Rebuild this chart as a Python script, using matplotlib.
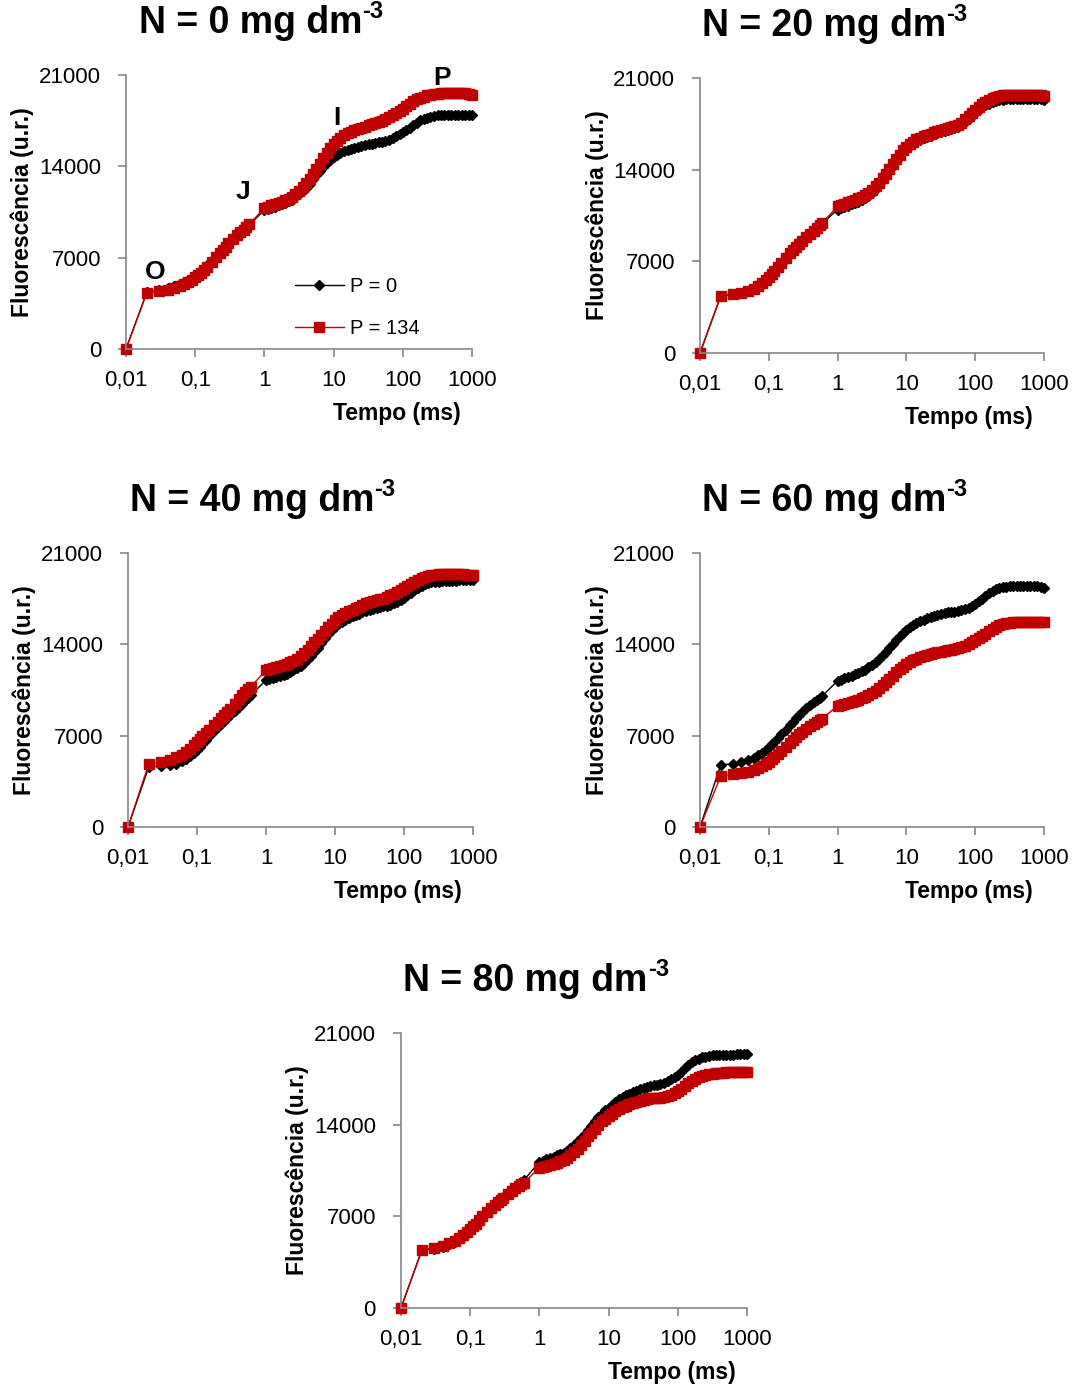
import matplotlib.pyplot as plt
from matplotlib.ticker import FixedLocator, FixedFormatter

# tempo (ms)
tempo = [0.01, 0.02, 0.03, 0.04, 0.05, 0.06, 0.07, 0.08, 0.09, 0.1,
         0.11, 0.12, 0.135, 0.15, 0.175, 0.2, 0.225, 0.25, 0.275, 0.3,
         0.35, 0.4, 0.45, 0.5, 0.55, 0.6,
         1, 1.12, 1.25, 1.4, 1.6, 1.8, 2, 2.25, 2.5, 2.8,
         3.2, 3.6, 4, 4.5, 5, 5.6, 6.3, 7.1, 8, 9,
         10, 11.2, 12.5, 14, 16, 18, 20, 22.5, 25, 28,
         32, 36, 40, 45, 50, 56, 63, 71, 80, 90,
         100, 112, 125, 140, 160, 180, 200, 225, 250, 280,
         320, 360, 400, 450, 500, 560, 630, 710, 800, 900,
         1000]

# fluorescência (u.r.) - P = 0 / P = 134 for each N level
n0_p0 = [0, 4350, 4500, 4650, 4850, 5000, 5150, 5300, 5450, 5600,
         5780, 5950, 6180, 6400, 6750, 7050, 7350, 7600, 7850, 8100,
         8400, 8700, 8950, 9150, 9330, 9500,
         10650, 10720, 10800, 10900, 11000, 11100, 11200, 11320, 11450, 11630,
         11850, 12080, 12350, 12670, 13000, 13330, 13650, 13970, 14250, 14500,
         14700, 14890, 15050, 15160, 15250, 15330, 15400, 15480, 15550, 15630,
         15700, 15750, 15800, 15850, 15900, 15970, 16050, 16170, 16300, 16450,
         16600, 16780, 16950, 17150, 17350, 17520, 17650, 17730, 17800, 17860,
         17900, 17900, 17900, 17900, 17900, 17900, 17900, 17900, 17900, 17900,
         17900]
n0_p134 = [0, 4300, 4430, 4550, 4700, 4850, 5000, 5150, 5320, 5500,
           5680, 5850, 6080, 6300, 6700, 7050, 7350, 7600, 7850, 8100,
           8400, 8700, 8950, 9150, 9350, 9550,
           10800, 10900, 11000, 11100, 11200, 11300, 11400, 11520, 11650, 11850,
           12100, 12380, 12700, 13050, 13400, 13800, 14200, 14620, 15000, 15380,
           15700, 15970, 16200, 16400, 16550, 16660, 16750, 16850, 16950, 17050,
           17150, 17250, 17350, 17430, 17500, 17620, 17750, 17900, 18050, 18230,
           18400, 18600, 18800, 18980, 19150, 19260, 19350, 19430, 19500, 19540,
           19570, 19590, 19600, 19630, 19650, 19650, 19650, 19630, 19600, 19550,
           19450]

n20_p0 = [0, 4350, 4470, 4600, 4750, 4950, 5150, 5350, 5550, 5750,
          5980, 6200, 6500, 6800, 7200, 7550, 7800, 8050, 8280, 8500,
          8780, 9050, 9280, 9500, 9700, 9900,
          10950, 11050, 11150, 11250, 11350, 11450, 11550, 11670, 11800, 12000,
          12250, 12530, 12850, 13200, 13550, 13920, 14300, 14670, 15000, 15320,
          15600, 15820, 16000, 16160, 16300, 16400, 16500, 16600, 16700, 16800,
          16900, 16980, 17050, 17100, 17150, 17270, 17400, 17620, 17850, 18080,
          18300, 18530, 18750, 18900, 19050, 19160, 19250, 19300, 19350, 19380,
          19400, 19400, 19400, 19400, 19400, 19400, 19400, 19400, 19400, 19380,
          19350]
n20_p134 = [0, 4350, 4480, 4580, 4700, 4900, 5150, 5350, 5580, 5800,
            6030, 6250, 6550, 6850, 7250, 7600, 7850, 8100, 8330, 8550,
            8830, 9100, 9330, 9550, 9750, 9950,
            11200, 11300, 11400, 11500, 11600, 11700, 11800, 11920, 12050, 12230,
            12450, 12720, 13000, 13350, 13700, 14070, 14450, 14820, 15150, 15470,
            15750, 15970, 16150, 16310, 16450, 16550, 16650, 16750, 16850, 16950,
            17050, 17130, 17200, 17250, 17300, 17430, 17600, 17850, 18100, 18330,
            18550, 18780, 19000, 19180, 19350, 19460, 19550, 19620, 19680, 19700,
            19720, 19720, 19720, 19720, 19720, 19710, 19700, 19700, 19700, 19680,
            19650]

n40_p0 = [0, 4600, 4700, 4750, 4850, 5050, 5250, 5450, 5680, 5900,
          6130, 6350, 6650, 6950, 7330, 7650, 7900, 8150, 8350, 8550,
          8900, 9200, 9450, 9700, 9900, 10100,
          11250, 11350, 11450, 11520, 11600, 11680, 11750, 11870, 12000, 12150,
          12350, 12600, 12850, 13120, 13400, 13750, 14100, 14450, 14800, 15070,
          15300, 15530, 15750, 15900, 16050, 16150, 16250, 16350, 16450, 16550,
          16650, 16730, 16800, 16850, 16900, 16970, 17050, 17150, 17250, 17400,
          17550, 17750, 17950, 18150, 18350, 18500, 18650, 18700, 18750, 18780,
          18800, 18830, 18850, 18850, 18850, 18870, 18900, 18900, 18900, 18900,
          18900]
n40_p134 = [0, 4850, 4980, 5150, 5350, 5550, 5750, 6000, 6250, 6500,
            6730, 6950, 7200, 7450, 7780, 8050, 8330, 8600, 8830, 9050,
            9450, 9800, 10100, 10350, 10550, 10750,
            12000, 12100, 12200, 12270, 12350, 12420, 12500, 12620, 12750, 12900,
            13100, 13350, 13600, 13870, 14150, 14420, 14700, 15000, 15300, 15580,
            15850, 16070, 16250, 16400, 16550, 16650, 16750, 16870, 17000, 17130,
            17250, 17330, 17400, 17450, 17500, 17620, 17750, 17870, 18000, 18150,
            18300, 18480, 18650, 18800, 18950, 19050, 19150, 19230, 19300, 19340,
            19370, 19390, 19400, 19400, 19400, 19400, 19400, 19380, 19350, 19330,
            19300]

n60_p0 = [0, 4750, 4850, 4950, 5100, 5300, 5500, 5700, 5930, 6150,
          6350, 6550, 6830, 7100, 7470, 7800, 8080, 8350, 8580, 8800,
          9100, 9350, 9570, 9750, 9900, 10050,
          11200, 11300, 11400, 11500, 11600, 11700, 11800, 11920, 12050, 12230,
          12450, 12670, 12900, 13150, 13400, 13700, 14000, 14330, 14650, 14900,
          15100, 15300, 15500, 15650, 15800, 15900, 16000, 16100, 16200, 16280,
          16350, 16400, 16450, 16480, 16500, 16550, 16600, 16700, 16800, 16950,
          17100, 17300, 17500, 17730, 17950, 18100, 18250, 18330, 18400, 18430,
          18450, 18450, 18450, 18450, 18450, 18450, 18450, 18450, 18450, 18400,
          18350]
n60_p134 = [0, 3900, 4050, 4150, 4250, 4350, 4500, 4650, 4820, 5000,
            5180, 5350, 5600, 5850, 6130, 6400, 6650, 6900, 7100, 7300,
            7530, 7750, 7900, 8050, 8180, 8300,
            9300, 9380, 9450, 9520, 9600, 9680, 9750, 9850, 9950, 10080,
            10250, 10450, 10650, 10870, 11100, 11350, 11600, 11850, 12100, 12300,
            12500, 12650, 12800, 12900, 13000, 13080, 13150, 13230, 13300, 13380,
            13450, 13500, 13550, 13600, 13650, 13720, 13800, 13900, 14000, 14150,
            14300, 14480, 14650, 14820, 15000, 15180, 15350, 15450, 15550, 15600,
            15650, 15680, 15700, 15700, 15700, 15700, 15700, 15700, 15700, 15720,
            15750]

n80_p0 = [0, 4400, 4500, 4650, 4850, 5050, 5250, 5450, 5680, 5900,
          6130, 6350, 6650, 6950, 7330, 7650, 7900, 8120, 8320, 8500,
          8800, 9050, 9270, 9450, 9620, 9780,
          11150, 11250, 11350, 11450, 11550, 11650, 11750, 11870, 12000, 12200,
          12450, 12720, 13000, 13300, 13600, 13920, 14250, 14570, 14850, 15100,
          15300, 15530, 15750, 15930, 16100, 16230, 16350, 16480, 16600, 16700,
          16800, 16880, 16950, 17000, 17050, 17120, 17200, 17320, 17450, 17620,
          17800, 18050, 18300, 18530, 18750, 18920, 19050, 19130, 19200, 19250,
          19300, 19330, 19350, 19350, 19350, 19350, 19350, 19370, 19380, 19390,
          19400]
n80_p134 = [0, 4450, 4580, 4750, 4950, 5150, 5350, 5550, 5780, 6000,
            6230, 6450, 6730, 7000, 7350, 7650, 7870, 8070, 8250, 8420,
            8700, 8950, 9150, 9320, 9450, 9580,
            10700, 10780, 10850, 10920, 11000, 11100, 11200, 11320, 11450, 11650,
            11900, 12170, 12450, 12780, 13100, 13400, 13700, 14000, 14250, 14470,
            14650, 14850, 15050, 15200, 15350, 15450, 15550, 15650, 15750, 15830,
            15900, 15950, 16000, 16030, 16050, 16070, 16100, 16170, 16250, 16400,
            16550, 16750, 16950, 17150, 17350, 17520, 17650, 17730, 17800, 17850,
            17900, 17930, 17950, 17980, 18000, 18000, 18000, 18000, 18000, 18000,
            18000]

titulos = ["0", "20", "40", "60", "80"]
series = [(n0_p0, n0_p134), (n20_p0, n20_p134), (n40_p0, n40_p134), (n60_p0, n60_p134), (n80_p0, n80_p134)]

x_ticks = [0.01, 0.1, 1, 10, 100, 1000]
x_labels = ["0,01", "0,1", "1", "10", "100", "1000"]
y_ticks = [0, 7000, 14000, 21000]

# OJIP step labels on the first panel (tempo, fluorescência)
etapas = [("O", 0.026, 5900), ("J", 0.49, 12050), ("I", 11, 17700), ("P", 370, 20800)]

plt.rcParams["font.family"] = ["Liberation Sans", "DejaVu Sans"]

W, H = 1085, 1387
fig = plt.figure(figsize=(W / 100, H / 100), dpi=100)

# axes boxes in pixels: left, top, right, bottom
boxes = [(126, 75, 472, 349), (700, 78, 1044, 353), (128, 553, 473, 827),
         (700, 553, 1044, 827), (401, 1033, 747, 1308)]

gray = "#868686"
for (l, t, r, b), nv, (p0, p134) in zip(boxes, titulos, series):
    ax = fig.add_axes([l / W, 1 - b / H, (r - l) / W, (b - t) / H])
    ax.plot(tempo, p0, color="black", marker="D", markersize=5, linewidth=1, label="P = 0", clip_on=False)
    ax.plot(tempo, p134, color="#C00000", marker="s", markersize=6.5, linewidth=1, label="P = 134",
            clip_on=False)
    ax.set_xscale("log")
    ax.set_xlim(0.01, 1000)
    ax.set_ylim(0, 21000)
    ax.xaxis.set_major_locator(FixedLocator(x_ticks))
    ax.xaxis.set_major_formatter(FixedFormatter(x_labels))
    ax.xaxis.set_minor_locator(FixedLocator([]))
    ax.set_yticks(y_ticks)
    ax.set_yticklabels([str(v) for v in y_ticks])
    for s in ["top", "right"]:
        ax.spines[s].set_visible(False)
    for s in ["left", "bottom"]:
        ax.spines[s].set_color(gray)
        ax.spines[s].set_linewidth(1.2)
    ax.tick_params(direction="out", length=6, width=1.2, color=gray, labelsize=16)
    ax.tick_params(axis="x", pad=9)
    ax.tick_params(axis="y", pad=12)
    ax.set_xlabel("Tempo (ms)", fontsize=16.5, fontweight="bold", va="center")
    ax.set_ylabel("Fluorescência (u.r.)", fontsize=16.5, fontweight="bold", va="center")
    ax.xaxis.set_label_coords(0.783, -0.234)
    ax.yaxis.set_label_coords(-0.30, 0.5)

    tt = ax.text(0.36, 1.19, "N = " + nv + " mg dm", transform=ax.transAxes,
                 ha="center", va="center", fontsize=27, fontweight="bold")
    ax.annotate("-3", xy=(1.0, 0.82), xycoords=tt, ha="left", va="center",
                fontsize=17, fontweight="bold")

    if nv == "0":
        ax.legend(loc="upper left", bbox_to_anchor=(0.46, 0.30), frameon=False, fontsize=14.5,
                  handlelength=2.4, labelspacing=1.15, handletextpad=0.3, borderpad=0)
        for txt, xx, yy in etapas:
            ax.text(xx, yy, txt, ha="center", va="center", fontsize=19, fontweight="bold")

fig.savefig("out.png", dpi=100)
